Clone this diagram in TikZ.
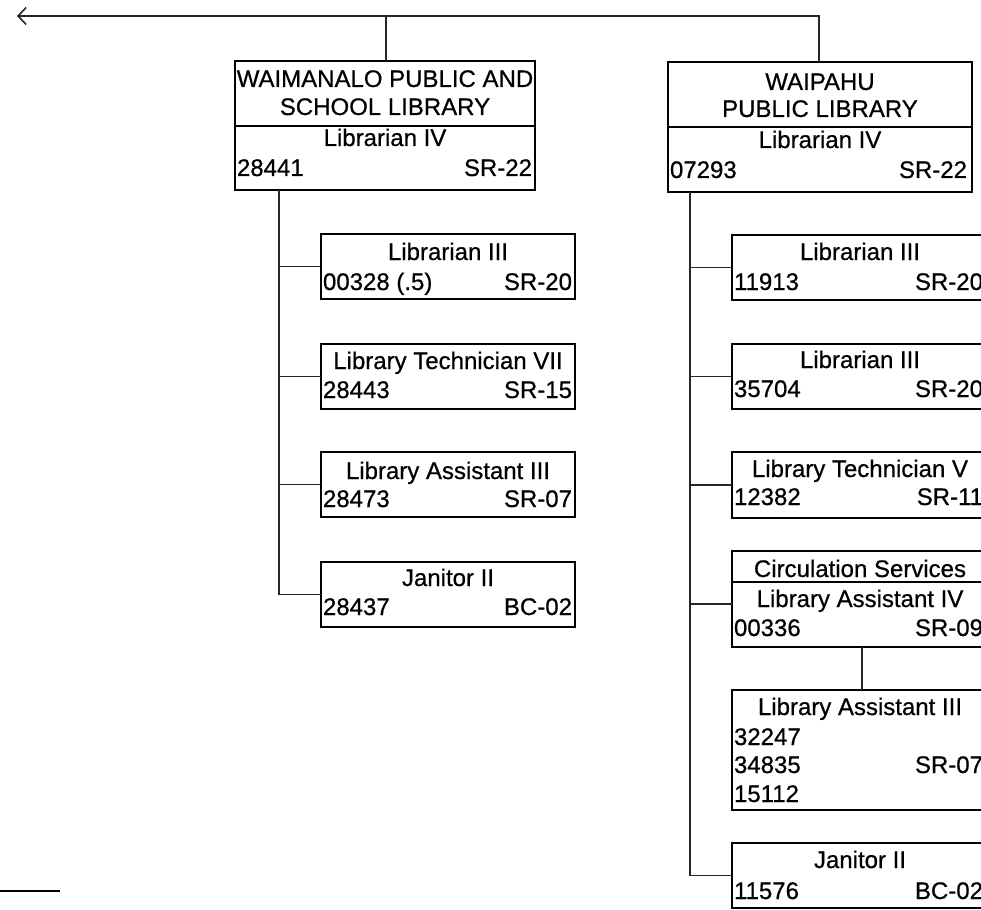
\documentclass[tikz,border=0pt]{standalone}
\usepackage{fontspec}
\setmainfont{Liberation Sans}
\newfontfamily\scanfont{Liberation Sans}[FakeBold=0.6]
\usetikzlibrary{arrows.meta}
\tikzset{
  box/.style={draw, line width=1.6pt, inner sep=0pt, outer sep=0pt, anchor=north west, minimum width=#1},
  box/.default=254pt,
  lbl/.style={font=\scanfont\fontsize{24}{29}\selectfont, inner sep=0pt, outer sep=0pt, text=black},
  ttl/.style={lbl, anchor=base},
  lft/.style={lbl, anchor=base west},
  rgt/.style={lbl, anchor=base east},
  conn/.style={line width=1.4pt, draw=black!85},
  sep/.style={line width=1.5pt}
}
\begin{document}
\begin{tikzpicture}[x=1pt,y=-1pt]
\path[use as bounding box, clip] (0,0) rectangle (981,909);
\fill[white] (0,0) rectangle (981,909);

% ---- top boxes
\node[box=300pt, minimum height=129pt] (t1) at (235,61) {};
\node[ttl] (t1a) at (385,87) {WAIMANALO PUBLIC AND};
\node[ttl] (t1b) at (385,115) {SCHOOL LIBRARY};
\draw[sep] (t1.west |- 0,126) -- (t1.east |- 0,126);
\node[ttl] (t1c) at (385,146) {Librarian IV};
\node[lft] (t1d) at (237,176) {28441};
\node[rgt] (t1e) at (532,176) {SR-22};

\node[box=304pt, minimum height=130pt] (t2) at (668,62) {};
\node[ttl] (t2a) at (820,90) {WAIPAHU};
\node[ttl] (t2b) at (820,117) {PUBLIC LIBRARY};
\draw[sep] (t2.west |- 0,127) -- (t2.east |- 0,127);
\node[ttl] (t2c) at (820,148) {Librarian IV};
\node[lft] (t2d) at (670,178) {07293};
\node[rgt] (t2e) at (967,178) {SR-22};

% ---- top connector
\coordinate (tip) at (17,16);
\coordinate (tl) at (386,16);
\coordinate (tr) at (819,16);
\draw[conn, {Straight Barb[length=8pt,width=17pt,line width=1.6pt]}-] (tip) -- (tr) -- (tr |- t2.north);
\draw[conn] (tl) -- (tl |- t1.north);

% ---- left children
\node[box, minimum height=65pt] (l1) at (321,234) {};
\node[ttl] (l1a) at (448,260) {Librarian III};
\node[lft] (l1b) at (323,290) {00328 (.5)};
\node[rgt] (l1c) at (572,290) {SR-20};

\node[box, minimum height=65pt] (l2) at (321,344) {};
\node[ttl] (l2a) at (448,369) {Library Technician VII};
\node[lft] (l2b) at (323,398) {28443};
\node[rgt] (l2c) at (572,398) {SR-15};

\node[box, minimum height=65pt] (l3) at (321,452) {};
\node[ttl] (l3a) at (448,479) {Library Assistant III};
\node[lft] (l3b) at (323,507) {28473};
\node[rgt] (l3c) at (572,507) {SR-07};

\node[box, minimum height=65pt] (l4) at (321,562) {};
\node[ttl] (l4a) at (448,586) {Janitor II};
\node[lft] (l4b) at (323,615) {28437};
\node[rgt] (l4c) at (572,615) {BC-02};

\coordinate (lt) at (279,0);
\draw[conn] (lt |- t1.south) |- (l4.west);
\draw[conn] (lt |- l1.west) -- (l1.west);
\draw[conn] (lt |- l2.west) -- (l2.west);
\draw[conn] (lt |- l3.west) -- (l3.west);

% ---- right children
\node[box, minimum height=65pt] (r1) at (732,235) {};
\node[ttl] (r1a) at (860,260) {Librarian III};
\node[lft] (r1b) at (734,290) {11913};
\node[rgt] (r1c) at (983,290) {SR-20};

\node[box, minimum height=65pt] (r2) at (732,344) {};
\node[ttl] (r2a) at (860,368) {Librarian III};
\node[lft] (r2b) at (734,397) {35704};
\node[rgt] (r2c) at (983,397) {SR-20};

\node[box, minimum height=66pt] (r3) at (732,452) {};
\node[ttl] (r3a) at (860,477) {Library Technician V};
\node[lft] (r3b) at (734,505) {12382};
\node[rgt] (r3c) at (983,505) {SR-11};

\node[box, minimum height=96pt] (r4) at (732,551) {};
\node[ttl] (r4a) at (860,577) {Circulation Services};
\draw[sep] (r4.west |- 0,582) -- (r4.east |- 0,582);
\node[ttl] (r4b) at (860,607) {Library Assistant IV};
\node[lft] (r4c) at (734,636) {00336};
\node[rgt] (r4d) at (983,636) {SR-09};

\node[box, minimum height=120pt] (r5) at (732,690) {};
\node[ttl] (r5a) at (860,715) {Library Assistant III};
\node[lft] (r5b) at (734,745) {32247};
\node[lft] (r5c) at (734,773) {34835};
\node[rgt] (r5d) at (983,773) {SR-07};
\node[lft] (r5e) at (734,802) {15112};

\node[box, minimum height=65pt] (r6) at (732,843) {};
\node[ttl] (r6a) at (860,868) {Janitor II};
\node[lft] (r6b) at (734,899) {11576};
\node[rgt] (r6c) at (983,899) {BC-02};

\coordinate (rt) at (690,0);
\coordinate (rv) at (862,0);
\draw[conn] (rt |- t2.south) |- (r6.west);
\draw[conn] (rt |- r1.west) -- (r1.west);
\draw[conn] (rt |- r2.west) -- (r2.west);
\draw[conn] (rt |- r3.west) -- (r3.west);
\draw[conn] (rt |- 0,604) -- (r4.west |- 0,604);
\draw[conn] (rv |- r4.south) -- (rv |- r5.north);

% ---- stray line bottom left
\coordinate (bl1) at (0,891);
\coordinate (bl2) at (60,891);
\draw[line width=1.8pt] (bl1) -- (bl2);
\end{tikzpicture}
\end{document}
